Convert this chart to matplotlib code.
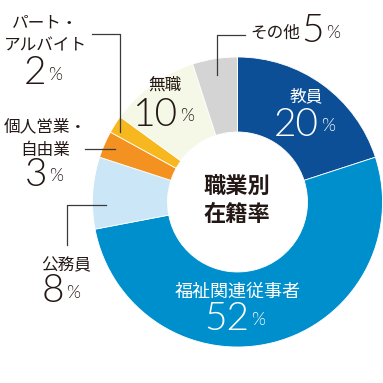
import matplotlib
matplotlib.use("Agg")
import matplotlib.pyplot as plt

# ---- data ----
categories = ["教員", "福祉関連従事者", "公務員", "個人営業・自由業", "パート・アルバイト", "無職", "その他"]
values = [20, 52, 8, 3, 2, 10, 5]
colors = ["#0C4F97", "#008FCD", "#CBE6F6", "#F39220", "#F6B81E", "#F5F7E7", "#D4D4D4"]
center_title = "職業別\n在籍率"

JP = ["Noto Sans CJK JP", "DejaVu Sans"]
NUM = ["Lato", "DejaVu Sans"]
H = 383

fig = plt.figure(figsize=(3.83, 3.83), dpi=100)
ax = fig.add_axes([0, 0, 1, 1])

cx, cy, R, W = 237.5, H - 202, 145, 75
ax.pie(values, colors=colors, startangle=90, counterclock=False,
       center=(cx, cy), radius=R,
       wedgeprops=dict(width=W, edgecolor="white", linewidth=0.6))
ax.set_xlim(0, H)
ax.set_ylim(0, H)
ax.set_aspect("equal")
ax.axis("off")

def y(p):
    return H - p

def jp(x, yp, s, color="#231815", size=12, weight="normal"):
    ax.text(x, y(yp), s, ha="center", va="center", fontsize=size, color=color,
            family=JP, fontweight=weight, linespacing=1.2)

def pct(xr, yc, val, color="#231815"):
    ax.text(xr, y(yc), str(val), ha="right", va="center", fontsize=28,
            color=color, family=NUM, fontweight=300)
    ax.text(xr + 2, y(yc + 1), "%", ha="left", va="center", fontsize=13,
            color=color, family=NUM, fontweight=300)

# 教員
jp(306, 97, "教員", color="white", size=12)
pct(319, 125, values[0], color="white")
# 福祉関連従事者
jp(237.5, 292, "福祉関連従事者", color="white", size=13)
pct(249, 319, values[1], color="white")
# 公務員
jp(66, 266, "公務員", size=12)
pct(64, 291.5, values[2])
# 個人営業・自由業
jp(45, 127, "個人営業・", size=12)
jp(45, 150, "自由業", size=12)
pct(47, 175, values[3])
# パート・アルバイト
jp(45, 23, "パート・", size=12)
jp(45, 46, "アルバイト", size=12)
pct(46, 73.5, values[4])
# 無職
jp(165, 85, "無職", size=12)
pct(178, 115, values[5])
# その他
ax.text(300, y(33), "その他", ha="right", va="center", fontsize=12,
        color="#231815", family=JP)
pct(324, 31.5, values[6])

# center
jp(237, 201, center_title, size=16, weight="bold")

# leader lines
lc = dict(color="#3a3a3a", linewidth=0.9)
ax.plot([92, 120, 120], [y(34), y(34), y(132)], **lc)
ax.plot([85, 115], [y(149), y(149)], **lc)
ax.plot([67, 67, 106], [y(245), y(205), y(205)], **lc)
ax.plot([217, 217, 245], [y(75), y(35), y(35)], **lc)

fig.savefig("out.png", dpi=100)
